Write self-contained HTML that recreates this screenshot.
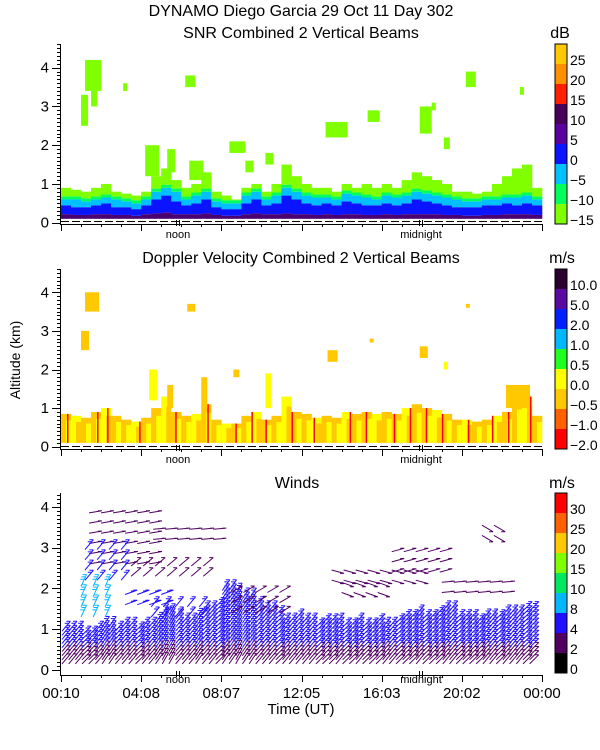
<!DOCTYPE html>
<html><head><meta charset="utf-8">
<style>
html,body{margin:0;padding:0;background:#fff;}
svg{display:block;font-family:"Liberation Sans",sans-serif;}
</style></head>
<body>
<svg id="chart" width="600" height="750" viewBox="0 0 600 750" xmlns="http://www.w3.org/2000/svg">
<rect x="0" y="0" width="600" height="750" fill="#fff"/>
<text x="301" y="16" font-size="16" text-anchor="middle">DYNAMO Diego Garcia  29 Oct 11 Day 302</text>
<text x="301" y="38" font-size="16" text-anchor="middle">SNR Combined 2 Vertical Beams</text>
<text x="301" y="263" font-size="16" text-anchor="middle">Doppler Velocity Combined 2 Vertical Beams</text>
<text x="297" y="488" font-size="16" text-anchor="middle">Winds</text>
<text x="560" y="38" font-size="16" text-anchor="middle">dB</text>
<text x="562" y="263" font-size="16" text-anchor="middle">m/s</text>
<text x="562" y="488" font-size="16" text-anchor="middle">m/s</text>
<text x="0" y="0" font-size="14" text-anchor="middle" transform="translate(20,360) rotate(-90)">Altitude (km)</text>
<text x="301" y="714" font-size="15" text-anchor="middle">Time (UT)</text>
<g id="layer"></g>
</svg>
<script>
// ---------- data ----------
const snrLimeTop = [0.9,0.85,0.8,0.9,1.0,0.8,0.75,0.7,0.8,1.2,1.4,1.1,0.9,1.0,1.3,0.8,0.7,0.6,0.9,1.0,0.8,1.0,1.5,1.2,1.0,0.9,0.9,0.8,1.0,0.9,1.0,0.9,1.0,0.9,1.1,1.3,1.2,1.1,1.0,0.8,0.8,0.75,0.8,1.0,1.2,1.4,1.5,0.9];
const snrCyanTop = [0.6,0.6,0.55,0.6,0.65,0.6,0.55,0.5,0.6,0.8,0.9,0.8,0.6,0.7,0.8,0.55,0.5,0.5,0.7,0.8,0.6,0.7,0.9,0.8,0.7,0.65,0.65,0.6,0.75,0.7,0.65,0.6,0.7,0.65,0.7,0.8,0.75,0.7,0.65,0.6,0.55,0.55,0.6,0.6,0.65,0.65,0.7,0.6];
const snrBlueTop = [0.45,0.4,0.4,0.45,0.5,0.4,0.4,0.35,0.45,0.6,0.7,0.55,0.45,0.5,0.6,0.4,0.35,0.35,0.5,0.6,0.45,0.5,0.7,0.6,0.5,0.45,0.5,0.45,0.55,0.5,0.45,0.45,0.5,0.45,0.5,0.6,0.55,0.5,0.45,0.4,0.4,0.4,0.45,0.45,0.5,0.45,0.5,0.45];
const snrPurpleTop = [0.22,0.2,0.2,0.22,0.22,0.2,0.2,0.18,0.22,0.24,0.26,0.22,0.22,0.22,0.24,0.2,0.18,0.18,0.22,0.24,0.22,0.22,0.24,0.22,0.22,0.2,0.22,0.2,0.22,0.22,0.2,0.2,0.22,0.2,0.22,0.22,0.22,0.22,0.2,0.2,0.18,0.18,0.2,0.2,0.22,0.22,0.22,0.2];
// scattered echoes: [hourStart, hourEnd, altBottom, altTop]
const snrPatches = [[1.2,2.0,3.4,4.2],[1.0,1.35,2.5,3.3],[1.5,1.8,3.0,3.4],[6.2,6.7,3.5,3.8],[4.2,4.9,1.2,2.0],[5.3,5.7,1.3,1.9],[6.4,7.1,1.1,1.6],[8.4,9.2,1.8,2.1],[9.2,9.6,1.3,1.6],[13.2,14.3,2.2,2.6],[15.3,15.9,2.6,2.9],[17.9,18.5,2.3,3.0],[18.5,18.7,2.9,3.1],[19.1,19.4,1.9,2.2],[20.2,20.7,3.5,3.9],[22.9,23.1,3.3,3.5],[10.2,10.6,1.5,1.8],[3.1,3.3,3.4,3.6]];
const snrColors = ['#4a0070','#5a009e','#0a14ff','#00c0ff','#00ff5a','#80ff00'];
const dopTop = [0.85,0.8,0.75,0.9,1.0,0.8,0.7,0.65,0.75,1.0,1.3,0.9,0.8,0.85,1.1,0.7,0.6,0.6,0.8,0.9,0.7,0.8,1.3,0.9,0.85,0.75,0.8,0.75,0.9,0.85,0.9,0.85,0.9,0.85,1.0,1.1,1.0,0.95,0.85,0.7,0.7,0.65,0.7,0.8,0.9,1.2,1.3,0.8];
const dopMean = [-0.3,0.2,-0.3,-0.2,0.1,-0.3,-0.3,0.2,-0.4,-0.2,0.1,-0.3,-0.2,0.2,-0.3,-0.3,0.1,-0.4,-0.2,0.2,-0.3,-0.2,0.1,-0.3,-0.3,0.2,-0.2,-0.3,0.1,-0.3,-0.2,0.2,-0.3,-0.3,0.1,-0.2,-0.3,0.2,-0.3,-0.3,0.1,-0.3,-0.2,0.2,-0.3,-0.3,0.1,-0.3];
// red downdraft streaks: hour positions
const dopRed = [0.3,1.8,2.3,3.9,5.7,7.3,8.7,9.5,10.2,11.5,12.6,14.4,15.2,16.6,17.4,18.2,19.0,20.3,21.5,22.3,23.4];
// echoes aloft: [hourStart, hourEnd, altBottom, altTop, velocity]
const dopPatches = [[1.2,1.9,3.5,4.0,-0.3],[1.0,1.4,2.5,3.0,-0.5],[6.3,6.7,3.5,3.7,-0.3],[4.4,4.8,1.2,2.0,0.1],[5.3,5.6,1.0,1.6,-0.3],[7.0,7.3,1.0,1.8,-0.3],[8.6,8.9,1.8,2.0,-0.2],[10.2,10.5,1.0,1.9,0.1],[13.3,13.8,2.2,2.5,-0.3],[15.4,15.6,2.7,2.8,-0.3],[17.9,18.3,2.3,2.6,-0.3],[19.1,19.3,2.0,2.2,0.0],[20.2,20.4,3.6,3.7,-0.3],[22.2,23.4,1.0,1.6,-0.3]];
const dopColors = ['#ff0000','#ff6000','#ffc800','#ffff00','#20ff20','#00b8ff','#0020ff','#5a0aa0','#2a0030'];
const dopBounds = [-2.0,-1.0,-0.5,0.0,0.5,1.0,2.0,5.0,10.0];
const windTop = [1.0,1.0,0.95,1.0,1.05,1.0,1.1,1.0,1.1,1.2,1.4,1.3,1.2,1.3,1.5,1.6,2.0,1.9,1.8,1.6,1.5,1.4,1.2,1.3,1.2,1.1,1.2,1.2,1.1,1.2,1.1,1.2,1.1,1.2,1.3,1.4,1.3,1.4,1.5,1.3,1.3,1.2,1.3,1.3,1.4,1.4,1.5,1.6];
const windSpeedProfile = [3,3,3,3.5,5,5,6,6,6,6,6,5,5,5,5,5,5,5,5,5];
const windAngle = [50,50,45,50,55,50,50,45,50,55,60,50,50,55,50,45,55,60,55,50,50,45,50,50,50,45,45,50,45,50,45,45,50,45,45,50,45,45,50,45,45,45,50,45,50,50,45,45];
// winds aloft: [hourStart, hourEnd, altBottom, altTop, speed, angleDeg]
const windPatches = [[1.4,4.6,2.6,3.9,3,10],[4.6,8.0,3.2,3.6,3,5],[1.2,3.6,2.2,3.0,5,50],[1.0,2.5,1.3,2.1,8,65],[3.2,5.5,1.6,2.0,5,20],[4.5,7.0,1.3,1.7,5,50],[8.5,11.0,1.4,1.9,3,30],[13.5,18.0,2.2,2.6,3,-15],[14.0,16.0,1.9,2.3,3,-20],[16.5,19.0,2.4,2.9,3,15],[19.0,22.5,1.9,2.2,3,5],[3.5,7.5,2.3,2.6,3,40],[21.0,22.0,3.3,3.6,3,-30]];
const windColors = ['#000000','#500060','#2010ff','#00b8ff','#00e860','#80ff00','#ffc800','#ff6000','#ff0000'];
const windBounds = [0,2,4,8,10,15,20,25,30];
const snrLabels = ['25','20','15','10','5','0','\u22125','\u221210','\u221215'];
const dopLabels = ['10.0','5.0','2.0','1.0','0.5','0.0','\u22120.5','\u22121.0','\u22122.0'];
const windLabels = ['30','25','20','15','10','8','4','2','0'];
const timeLabels = ['00:10','04:08','08:07','12:05','16:03','20:02','00:00'];
const altTicks = [0,1,2,3,4];

// ---------- axes ----------
const X0 = 61, X1 = 542;
function X(h){ return X0 + h/24*(X1-X0); }
const panels = [
  {y0:222.7, s:38.75, top:44, axis:224},
  {y0:446.7, s:38.6, top:269, axis:449},
  {y0:670, s:40.8, top:493, axis:675}
];
function Y(p,a){ return panels[p].y0 - a*panels[p].s; }

const NS='http://www.w3.org/2000/svg';
const layer=document.getElementById('layer');
function mk(tag,attrs,parent){ const e=document.createElementNS(NS,tag); for(const k in attrs) e.setAttribute(k,attrs[k]); (parent||layer).appendChild(e); return e; }

// ---------- panel 1: SNR ----------
const g1=mk('g',{});


for(let i=0;i<48;i++){
  const xa=X(i*0.5), xb=X(i*0.5+0.5);
  const layers=[[0.1,snrPurpleTop[i],snrColors[0]],[snrPurpleTop[i],snrBlueTop[i],snrColors[2]],[snrBlueTop[i],snrCyanTop[i],snrColors[3]],[snrCyanTop[i],snrCyanTop[i]+0.08,snrColors[4]],[snrCyanTop[i]+0.08,snrLimeTop[i],snrColors[5]]];
  layers.forEach(L=>{
    if(L[1]<=L[0]) return;
    const r=mk('rect',{x:xa,y:Y(0,L[1]),width:xb-xa+0.3,height:Y(0,L[0])-Y(0,L[1]),fill:L[2]},g1);
    
    
  });
}
snrPatches.forEach(p=>{
  const r=mk('rect',{x:X(p[0]),y:Y(0,p[3]),width:X(p[1])-X(p[0]),height:Y(0,p[2])-Y(0,p[3]),fill:snrColors[5]},g1);
  
  
});

// ---------- panel 2: Doppler ----------
function dopColor(v){ let k=0; for(let j=0;j<dopBounds.length;j++){ if(v>=dopBounds[j]) k=j; } return dopColors[k]; }
const g2=mk('g',{});


for(let i=0;i<48;i++){
  const xa=X(i*0.5), xb=X(i*0.5+0.5);
  const r=mk('rect',{x:xa,y:Y(1,dopTop[i]),width:xb-xa+0.3,height:Y(1,0.1)-Y(1,dopTop[i]),fill:dopColor(dopMean[i])},g2);
  
  
  const r2=mk('rect',{x:xa+(xb-xa)*0.5,y:Y(1,dopTop[i]*0.8),width:(xb-xa)*0.5,height:Y(1,0.1)-Y(1,dopTop[i]*0.8),fill:dopColor(-dopMean[i])},g2);
  
  
}
dopRed.forEach(h=>{
  const i=Math.min(47,Math.floor(h*2));
  const r=mk('rect',{x:X(h),y:Y(1,dopTop[i]),width:1.5,height:Y(1,0.1)-Y(1,dopTop[i]),fill:dopColors[0]},g2);
  
  
});
dopPatches.forEach(p=>{
  const r=mk('rect',{x:X(p[0]),y:Y(1,p[3]),width:Math.max(2,X(p[1])-X(p[0])),height:Y(1,p[2])-Y(1,p[3]),fill:dopColor(p[4])},g2);
  
  
});

// ---------- panel 3: Winds ----------
function windColor(v){ let k=0; for(let j=0;j<windBounds.length;j++){ if(v>=windBounds[j]) k=j; } return windColors[k]; }
const g3=mk('g',{fill:'none','stroke-width':1});


function barb(x,y,speed,ang){
  const a=ang*Math.PI/180, L=13;
  const ex=x+L*Math.cos(a), ey=y-L*Math.sin(a);
  const c=windColor(speed);
  let d='M'+x.toFixed(1)+' '+y.toFixed(1)+'L'+ex.toFixed(1)+' '+ey.toFixed(1);
  const n=Math.max(1,Math.round(speed/3));
  for(let k=0;k<n;k++){
    const t=1-k*0.2, px=x+(ex-x)*t, py=y+(ey-y)*t;
    d+='M'+px.toFixed(1)+' '+py.toFixed(1)+'h-4';
  }
  const p=mk('path',{d:d,stroke:c},g3);
  
  
}
for(let h=0.05;h<23.6;h+=1/3){
  const i=Math.min(47,Math.floor(h*2));
  for(let lv=0;lv<windSpeedProfile.length;lv++){
    const alt=0.15+lv*0.1;
    if(alt>windTop[i]) break;
    barb(X(h),Y(2,alt),windSpeedProfile[lv],windAngle[i]);
  }
}
windPatches.forEach(p=>{
  for(let h=p[0];h<p[1];h+=0.6){
    for(let a=p[2];a<=p[3];a+=0.25){ barb(X(h),Y(2,a),p[4],p[5]); }
  }
});

// ---------- axes, colorbars ----------
const barColors=[['#ffc800','#ff9000','#ff2000','#48005a','#5a009e','#0a14ff','#00c0ff','#00ff5a','#80ff00'],
  dopColors.slice().reverse(), windColors.slice().reverse()];
const barLabels=[snrLabels,dopLabels,windLabels];
const barNames=['snr-colorbar','doppler-colorbar','winds-colorbar'];
panels.forEach((P,pi)=>{
  const ax=mk('g',{stroke:'#000','stroke-width':1,fill:'none'});
  
  
  mk('path',{d:'M'+(X0-0.5)+' '+P.top+'V'+(P.axis+0.5)+'H'+(X1+0.5)},ax);
  let d='';
  for(let k=0;k<=Math.floor((Y(pi,0)-P.top)/P.s*10);k++){
    const y=Math.round(Y(pi,k/10))+0.5;
    d+='M'+(X0-(k%10===0?9:4))+' '+y+'H'+X0;
  }
  for(let h=0;h<=24;h++){ d+='M'+(Math.round(X(h))+0.5)+' '+P.axis+'v'+(h%4===0?7:3); }
  [5.85,17.96].forEach(h=>{ const x=Math.round(X(h)); d+='M'+(x-1.5)+' '+(P.axis-4)+'v6M'+(x+1.5)+' '+(P.axis-4)+'v6'; });
  mk('path',{d:d},ax);
  if(pi<2){
    const dl=mk('line',{x1:X0,x2:X1,y1:P.axis-2.5,y2:P.axis-2.5,'stroke-dasharray':'8 3'},ax);
    
    
  }
  altTicks.forEach(v=>{
    const t=mk('text',{x:X0-12,y:Y(pi,v)+5,'font-size':15,'text-anchor':'end',fill:'#000'});
    t.textContent=v;
    
    
  });
  const nTxt=[['noon',178],['midnight',421]];
  nTxt.forEach(n=>{
    const t=mk('text',{x:n[1],y:P.axis+(pi===2?8:14),'font-size':11,'text-anchor':'middle',fill:'#000'});
    t.textContent=n[0];
    
    
  });
  const cb=mk('g',{});
  
  
  const top=P.top, segH=180/9;
  barColors[pi].forEach((c,k)=>{
    const r=mk('rect',{x:555,y:top+k*segH,width:12,height:segH,fill:c},cb);
    
    
    const t=mk('text',{x:570,y:top+k*segH+21,'font-size':14,fill:'#000'},cb);
    t.textContent=barLabels[pi][k];
    
    
  });
  mk('rect',{x:555,y:top,width:12,height:180,fill:'none',stroke:'#000'},cb);
});
timeLabels.forEach((s,k)=>{
  const t=mk('text',{x:X(k*4),y:698,'font-size':15,'text-anchor':'middle',fill:'#000'});
  t.textContent=s;
  
  
});
</script>
</body></html>
